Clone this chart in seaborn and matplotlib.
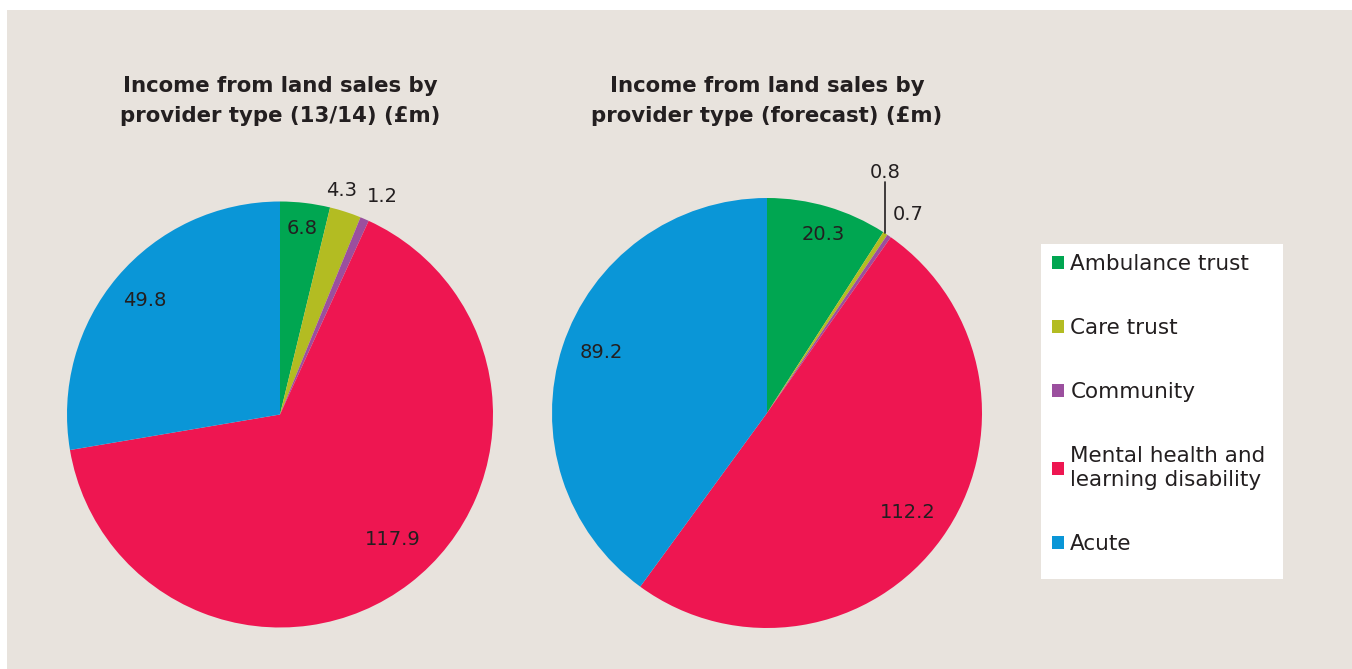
import numpy as np
import matplotlib
matplotlib.use("Agg")
import matplotlib.pyplot as plt
import seaborn as sns
from matplotlib.patches import Rectangle, Patch

# -----------------------------
# DATA
# -----------------------------

categories = ["Ambulance trust", "Care trust", "Community",
              "Mental health and\nlearning disability", "Acute"]
income_1314 = [6.8, 4.3, 1.2, 117.9, 49.8]
income_forecast = [20.3, 0.8, 0.7, 112.2, 89.2]
titles = ["Income from land sales by\nprovider type (13/14) (£m)",
          "Income from land sales by\nprovider type (forecast) (£m)"]

colors = ["#00A651", "#B3BC22", "#9B4F9E", "#EE1651", "#0A96D7"]
bg = "#E8E3DD"
text_col = "#231F20"

# label placement: radial distance (1.0 = pie edge) and angle nudge (deg)
label_dist_1 = [0.88, 1.09, 1.13, 0.79, 0.83]
label_nudge_1 = [0, 2.5, -1.8, 4.5, 0]
label_dist_2 = [0.87, None, 1.13, 0.80, 0.82]  # None -> leader line label
label_nudge_2 = [-1, 0, -0.8, 0.5, -2]

# -----------------------------
# STYLE
# -----------------------------

sns.set_style("white")
plt.rcParams["font.family"] = ["DejaVu Sans"]

W, H = 1352, 669
fig = plt.figure(figsize=(W / 100, H / 100), dpi=100, facecolor="white")

# beige panel behind everything
fig.patches.append(Rectangle((7 / W, 0), 1 - 7 / W, 1 - 10 / H,
                             transform=fig.transFigure, facecolor=bg,
                             edgecolor="none", zorder=-10))


def pie_axes(cx, cy, r):
    # axes square in pixels, centred on (cx, cy) measured from top-left
    return fig.add_axes([(cx - r) / W, (H - cy - r) / H, 2 * r / W, 2 * r / H])


def draw_pie(ax, values, dists, nudges):
    wedges, _ = ax.pie(values, colors=colors, startangle=90, counterclock=False,
                       radius=1, wedgeprops=dict(linewidth=0))
    ax.set_xlim(-1, 1)
    ax.set_ylim(-1, 1)
    ax.set_aspect("equal")
    ax.axis("off")
    for w, v, d, n in zip(wedges, values, dists, nudges):
        mid = np.deg2rad((w.theta1 + w.theta2) / 2 + n)
        if d is None:
            x0, y0 = np.cos(mid), np.sin(mid)
            ax.plot([x0, x0], [y0, 1.075], color=text_col, lw=1.2, clip_on=False)
            ax.text(x0, 1.12, f"{v}", ha="center", va="center",
                    fontsize=14, color=text_col, clip_on=False)
        else:
            ax.text(d * np.cos(mid), d * np.sin(mid), f"{v}", ha="center",
                    va="center", fontsize=14, color=text_col, clip_on=False)


ax1 = pie_axes(280, 414.5, 213)
draw_pie(ax1, income_1314, label_dist_1, label_nudge_1)

ax2 = pie_axes(767, 413, 215)
draw_pie(ax2, income_forecast, label_dist_2, label_nudge_2)

# -----------------------------
# TITLES
# -----------------------------

for cx, t in zip([280, 767], titles):
    fig.text(cx / W, 1 - 101 / H, t, ha="center", va="center",
             fontsize=15.3, fontweight="bold", color=text_col, linespacing=1.65)

# -----------------------------
# LEGEND
# -----------------------------

fig.patches.append(Rectangle((1041 / W, 1 - 579 / H), 242 / W, 335 / H,
                             transform=fig.transFigure, facecolor="white",
                             edgecolor="none", zorder=-5))

handles = [Patch(facecolor=c, edgecolor="none") for c in colors]
fig.legend(handles, categories, loc="upper left",
           bbox_to_anchor=(1052 / W, 1 - 254 / H), frameon=False,
           fontsize=15.5, handlelength=0.55, handleheight=0.55,
           handletextpad=0.3, labelspacing=2.05, labelcolor=text_col,
           borderaxespad=0, borderpad=0)

plt.savefig("out.png", dpi=100, facecolor="white")
